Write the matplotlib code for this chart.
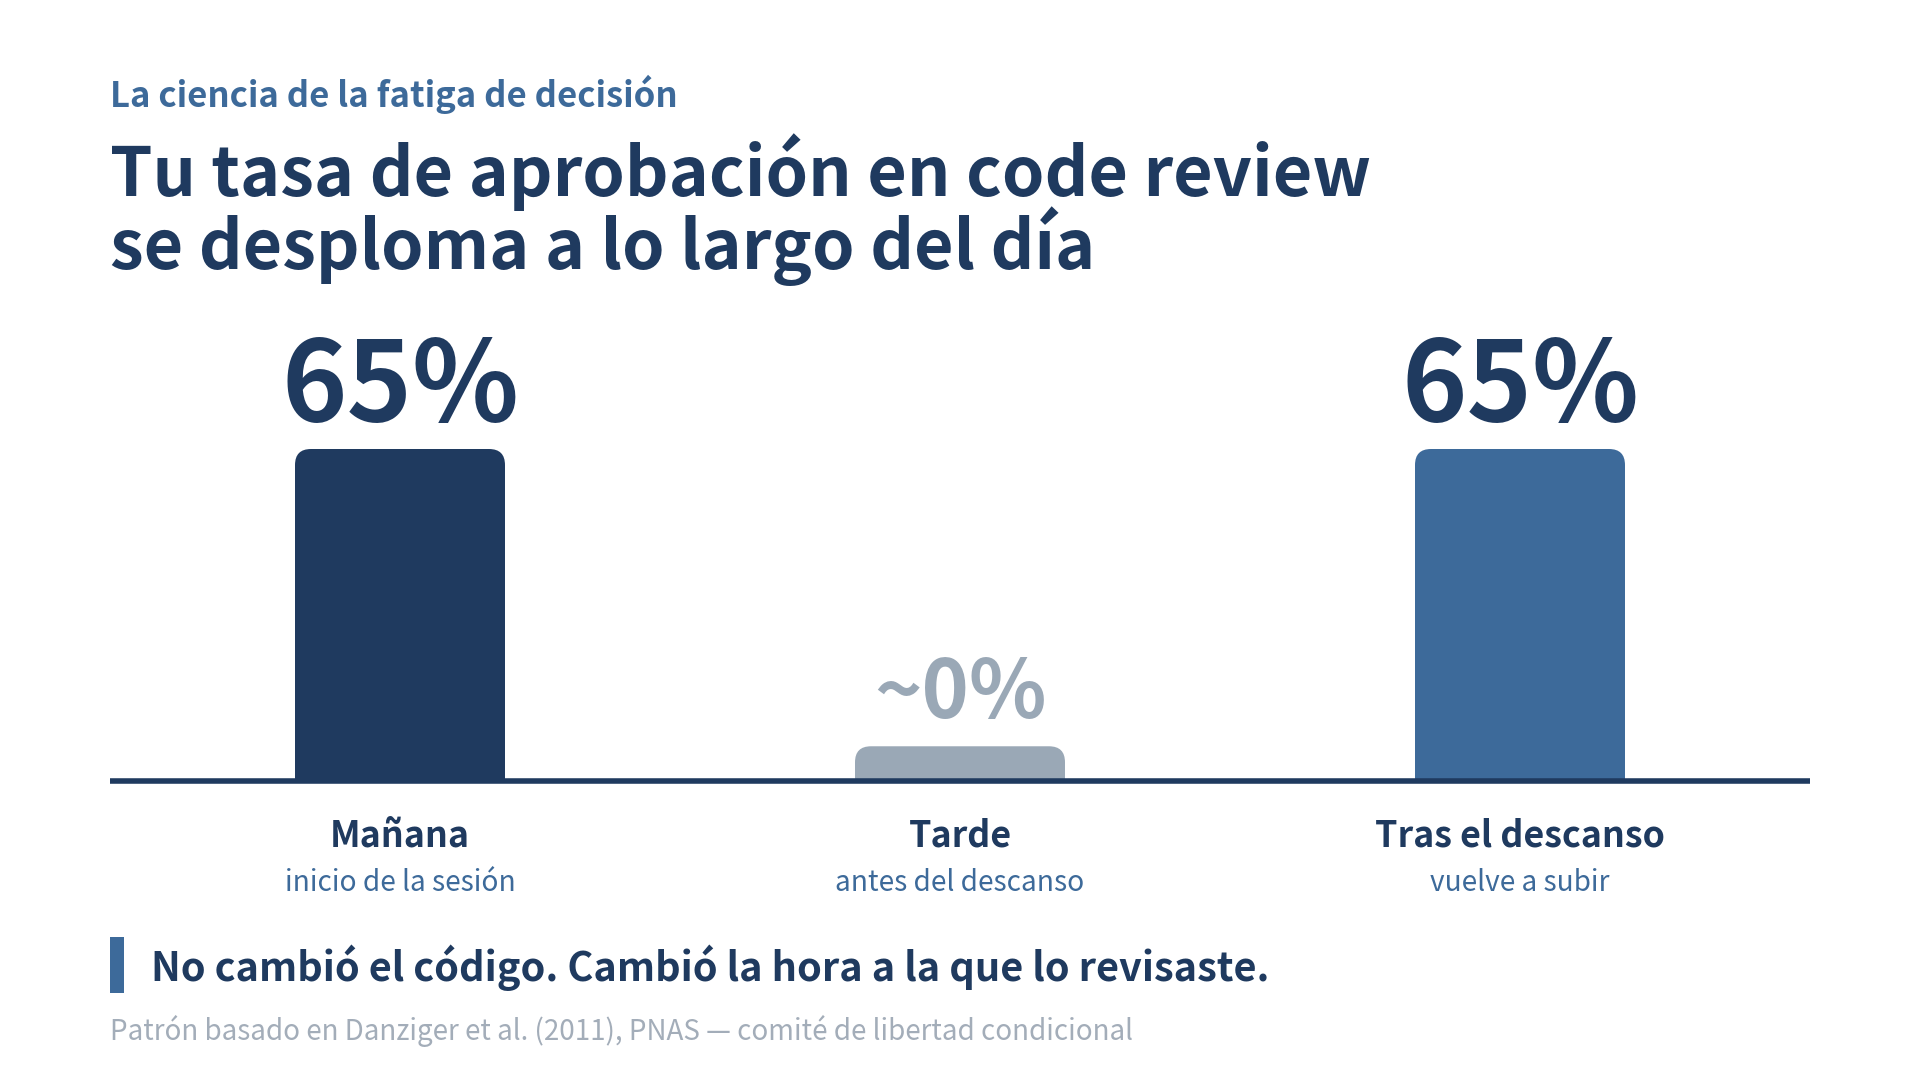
import matplotlib.pyplot as plt
from matplotlib.patches import FancyBboxPatch
import numpy as np

plt.rcParams['font.family'] = ['Noto Sans CJK SC', 'DejaVu Sans']

# data
categories = ['Mañana', 'Tarde', 'Tras el descanso']
subtitles = ['inicio de la sesión', 'antes del descanso', 'vuelve a subir']
values = [65, 0, 65]
value_labels = ['65%', '~0%', '65%']

NAVY = '#1f3a5f'
BLUE = '#3d6a9a'
GRAY = '#9aa8b6'
LIGHT = '#a3adb9'
bar_colors = [NAVY, GRAY, BLUE]
label_colors = [NAVY, GRAY, NAVY]
label_sizes = [80, 58, 80]

W, H = 1920, 1080
fig = plt.figure(figsize=(W / 100, H / 100), dpi=100)
fig.patch.set_facecolor('white')

def fx(px):
    return px / W

def fy(py):
    return 1 - py / H

# bar area: baseline at y=781px, 65 units = 332px
base_y, full_px = 781, 332
ax = fig.add_axes([fx(110), fy(base_y), fx(1700), full_px / H])
ax.set_xlim(-290 / 560, 2 + 290 / 560)
ax.set_ylim(0, 65)
ax.axis('off')

x = np.arange(len(categories))
heights = np.maximum(values, 6.8)  # keep a visible stub for ~0
bars = ax.bar(x, heights, width=0.375, color=bar_colors)

# replace plain bars with top-rounded ones
aspect = (65 / full_px) * 560
r = 16 / 560
for b, c in zip(bars, bar_colors):
    b.set_visible(False)
    ry = r * aspect
    p = FancyBboxPatch((b.get_x(), -ry * 2), b.get_width(), b.get_height() + ry * 2,
                       boxstyle=f'round,pad=0,rounding_size={r}',
                       mutation_aspect=aspect, fc=c, ec='none')
    ax.add_patch(p)

# baseline
ax.axhline(0, color=NAVY, lw=4, clip_on=False, zorder=5, solid_capstyle='butt')

# value labels
for xi, h, lab, col, sz in zip(x, heights, value_labels, label_colors, label_sizes):
    ax.annotate(lab, xy=(xi, h), xytext=(0, 20), textcoords='offset points',
                ha='center', va='baseline', fontsize=sz, fontweight='bold',
                color=col, annotation_clip=False)

# category labels
for xi, cat, sub in zip(x, categories, subtitles):
    ax.annotate(cat, xy=(xi, 0), xytext=(0, -47), textcoords='offset points',
                ha='center', va='baseline', fontsize=25.8, fontweight='bold',
                color=NAVY, annotation_clip=False)
    ax.annotate(sub, xy=(xi, 0), xytext=(0, -79), textcoords='offset points',
                ha='center', va='baseline', fontsize=20.2, color=BLUE,
                annotation_clip=False)

# header
fig.text(fx(110), fy(107), 'La ciencia de la fatiga de decisión', fontsize=25,
         fontweight='bold', color=BLUE, va='baseline')
fig.text(fx(110), fy(196), 'Tu tasa de aprobación en code review', fontsize=49,
         fontweight='bold', color=NAVY, va='baseline')
fig.text(fx(110), fy(269), 'se desploma a lo largo del día', fontsize=49,
         fontweight='bold', color=NAVY, va='baseline')

# callout
fig.add_artist(plt.Rectangle((fx(110), fy(993)), fx(14), (993 - 937) / H,
                             transform=fig.transFigure, fc=BLUE, ec='none'))
fig.text(fx(151), fy(981), 'No cambió el código. Cambió la hora a la que lo revisaste.',
         fontsize=28.6, fontweight='bold', color=NAVY, va='baseline')

# source
fig.text(fx(110), fy(1040), 'Patrón basado en Danziger et al. (2011), PNAS — comité de libertad condicional',
         fontsize=20, color=LIGHT, va='baseline')

fig.savefig('out.png', dpi=100, facecolor='white')
